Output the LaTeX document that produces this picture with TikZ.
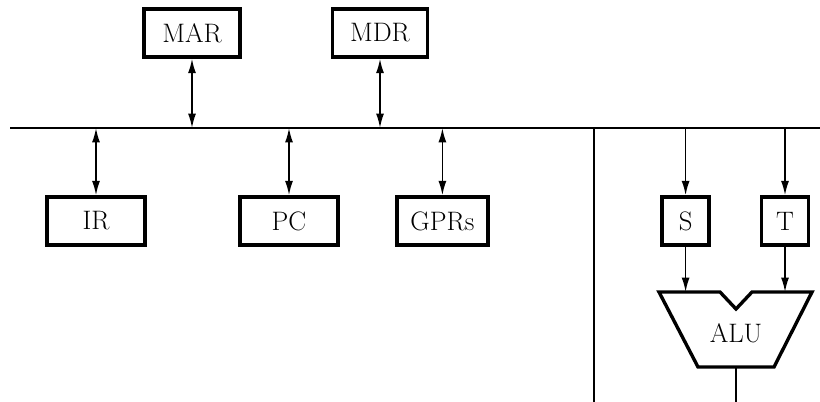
\documentclass[tikz,border=0pt]{standalone}
\usetikzlibrary{arrows.meta}
\begin{document}
\begin{tikzpicture}[very thick, >={Latex[length=3.6mm,width=2mm]},reg node/.style={rectangle,draw,line width=2.4pt,minimum height=1.2cm,inner sep=0pt,font=\fontsize{19}{22}\selectfont}]
\useasboundingbox (0,0) rectangle (20.5,-10.05);
\begin{scope}
\node[reg node,minimum width=2.4cm] (MAR) at (4.8,-0.825) {MAR};
\node[reg node,minimum width=2.375cm] (MDR) at (9.5,-0.825) {MDR};
\node[reg node,minimum width=2.45cm] (IR) at (2.4,-5.525) {IR};
\node[reg node,minimum width=2.45cm] (PC) at (7.225,-5.525) {PC};
\node[reg node,minimum width=2.275cm] (GPRs) at (11.06,-5.525) {GPRs};
\node[reg node,minimum width=1.175cm] (S) at (17.14,-5.525) {S};
\node[reg node,minimum width=1.175cm] (T) at (19.625,-5.525) {T};
\node[font=\fontsize{19}{22}\selectfont] (ALU) at (18.4,-8.325) {ALU};
\end{scope}
% bus
\coordinate (busL) at (0.25,-3.2);
\coordinate (busR) at (20.5,-3.2);
\coordinate (busJ) at (14.85,-3.2);
\coordinate (busEnd) at (14.85,-10.05);
\coordinate (aluIn) at (16.475,-7.3);
\coordinate (aluOut) at (18.4,-9.175);
\coordinate (outEnd) at (18.4,-10.05);
\draw (busL) -- (busR);
\draw (busJ) -- (busEnd);
% alu
\draw[line width=2.4pt] (aluIn) -- (18,-7.3) -- (18.4,-7.725) -- (18.8,-7.3) -- (20.3,-7.3) -- (19.35,-9.175) -- (17.45,-9.175) -- cycle;
\draw[<->] (MAR) -- (MAR |- busL);
\draw[<->] (MDR) -- (MDR |- busL);
\draw[<->] (IR |- busL) -- (IR);
\draw[<->] (PC |- busL) -- (PC);
\draw[<->] (GPRs |- busL) -- (GPRs);
\draw[->] (S |- busL) -- (S);
\draw[->] (T |- busL) -- (T);
\draw[->] (S) -- (S |- aluIn);
\draw[->] (T) -- (T |- aluIn);
\draw (aluOut) -- (outEnd);
\end{tikzpicture}
\end{document}
